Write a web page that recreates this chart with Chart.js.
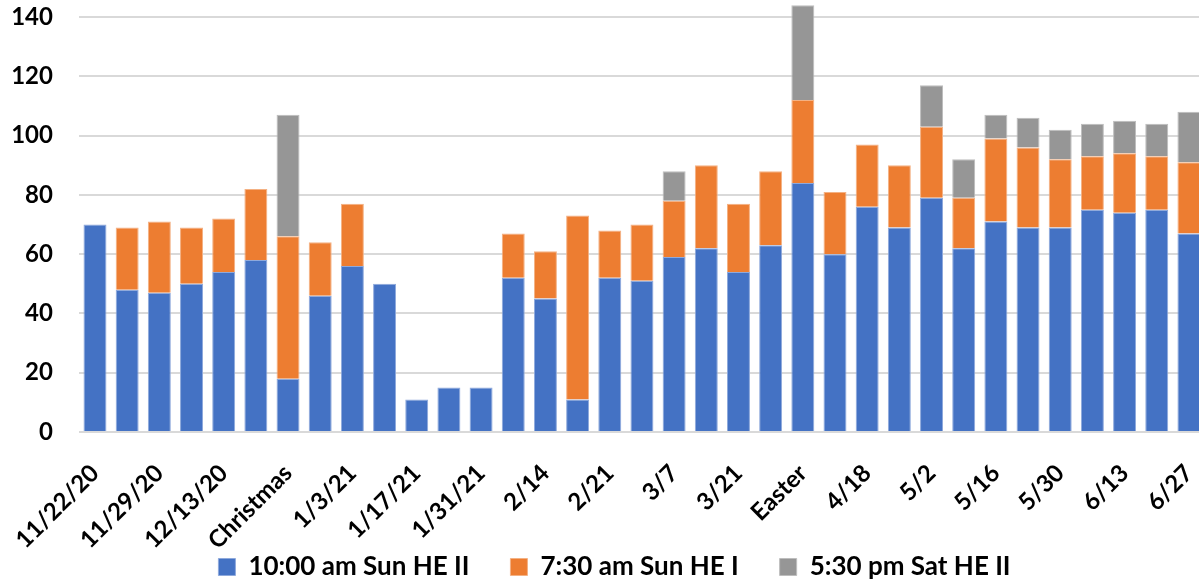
<!DOCTYPE html>
<html lang="en">
  <head>
    <meta charset="UTF-8" />
    <meta name="viewport" content="width=device-width, initial-scale=1.0" />
    <title>Attendance</title>
    <style>
      html, body { margin: 0; padding: 0; background: #fff; overflow: hidden; }
      #wrap { width: 1199px; height: 583px; overflow: hidden; }
    </style>
  </head>
  <body>
    <div id="wrap">
      <!-- bigger than the window on purpose: right edge is cropped like the original -->
      <canvas id="myChart" width="1205" height="629"></canvas>
    </div>

    <script src="https://cdn.jsdelivr.net/npm/chart.js@4/dist/chart.umd.min.js"></script>
    <script>
      // odd positions are not labelled on the axis, dates between are guessed
      const services = [
        "11/22/20", "11/26/20", "11/29/20", "12/6/20", "12/13/20", "12/20/20", "Christmas",
        "12/27/20", "1/3/21", "1/10/21", "1/17/21", "1/24/21", "1/31/21", "2/7",
        "2/14", "2/17", "2/21", "2/28", "3/7", "3/14", "3/21", "3/28", "Easter",
        "4/11", "4/18", "4/25", "5/2", "5/9", "5/16", "5/23", "5/30", "6/6",
        "6/13", "6/20", "6/27"
      ];

      const sun1000 = [70, 48, 47, 50, 54, 58, 18, 46, 56, 50, 11, 15, 15, 52, 45, 11, 52, 51,
        59, 62, 54, 63, 84, 60, 76, 69, 79, 62, 71, 69, 69, 75, 74, 75, 67];
      const sun730 = [null, 21, 24, 19, 18, 24, 48, 18, 21, null, null, null, null, 15, 16, 62, 16, 19,
        19, 28, 23, 25, 28, 21, 21, 21, 24, 17, 28, 27, 23, 18, 20, 18, 24];
      const sat530 = [null, null, null, null, null, null, 41, null, null, null, null, null, null, null, null, null, null, null,
        10, null, null, null, 32, null, null, null, 14, 13, 8, 10, 10, 11, 11, 11, 17];

      const seriesNames = ["10:00 am Sun HE II", "7:30 am Sun HE I", "5:30 pm Sat HE II"];
      const yTicks = { min: 0, max: 140, step: 20 };

      const ctx = document.getElementById("myChart").getContext("2d");

      // legend sits a bit right of centre and closer to the labels than chart.js puts it
      const legendNudge = {
        id: "legendNudge",
        afterLayout(chart) {
          const lg = chart.legend;
          lg.left += 12;
          lg.right += 12;
          lg.top -= 39;
          lg.bottom -= 39;
        }
      };

      function bars(label, data, fill, edge) {
        return {
          label: label,
          data: data,
          backgroundColor: fill,
          borderColor: edge,
          borderWidth: 1,
          categoryPercentage: 1,
          barPercentage: 0.714,
          clip: false
        };
      }

      const chart = new Chart(ctx, {
        type: "bar",
        data: {
          labels: services,
          datasets: [
            bars(seriesNames[0], sun1000, "#4472c4", "#8ea9dc"),
            bars(seriesNames[1], sun730, "#ed7d31", "#f4b183"),
            bars(seriesNames[2], sat530, "#969696", "#bdbdbd")
          ]
        },
        plugins: [legendNudge],
        options: {
          responsive: false,
          animation: false,
          layout: { padding: { left: 0, top: 17, right: 0, bottom: 0 } },
          plugins: {
            tooltip: { enabled: false },
            legend: {
              position: "bottom",
              labels: {
                boxWidth: 17,
                boxHeight: 17,
                padding: 41,
                color: "#000",
                font: { family: "Lato", weight: "bold", size: 26 }
              }
            }
          },
          scales: {
            x: {
              stacked: true,
              grid: { display: false },
              border: { display: false },
              ticks: {
                autoSkip: false,
                minRotation: 45,
                maxRotation: 45,
                padding: 19,
                color: "#000",
                font: { family: "Lato", weight: "bold", size: 24 },
                callback: function (value, index) {
                  return index % 2 === 0 ? this.getLabelForValue(value) : "";
                }
              },
              afterFit: function (scale) {
                scale.height = 120;
                scale.paddingRight = 0;
              }
            },
            y: {
              stacked: true,
              min: yTicks.min,
              max: yTicks.max,
              grid: { color: "#d9d9d9", lineWidth: 2, drawTicks: false },
              border: { display: false },
              ticks: {
                stepSize: yTicks.step,
                padding: 26,
                color: "#000",
                font: { family: "Lato", weight: "bold", size: 24 }
              },
              afterFit: function (scale) {
                scale.width = 78;
                scale.paddingTop = 0;
              }
            }
          }
        }
      });
    </script>
  </body>
</html>
